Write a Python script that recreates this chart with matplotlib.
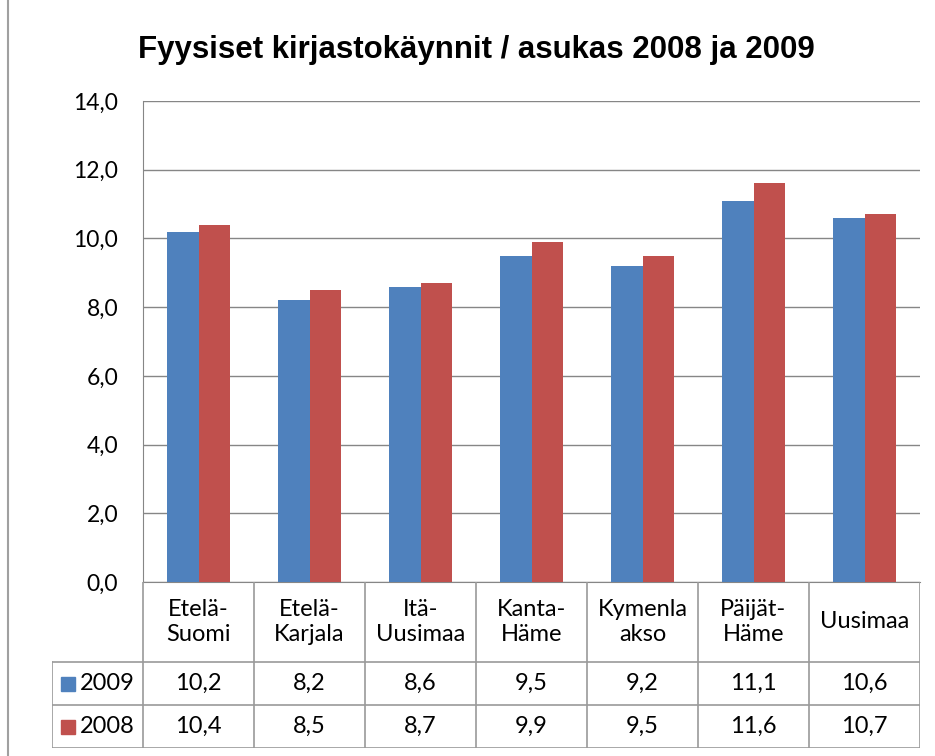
import matplotlib
matplotlib.use("Agg")
import matplotlib.pyplot as plt
import numpy as np
from matplotlib.lines import Line2D
from matplotlib.patches import Rectangle

regions = ["Etelä-\nSuomi", "Etelä-\nKarjala", "Itä-\nUusimaa", "Kanta-\nHäme",
           "Kymenla\nakso", "Päijät-\nHäme", "Uusimaa"]
v2009 = [10.2, 8.2, 8.6, 9.5, 9.2, 11.1, 10.6]
v2008 = [10.4, 8.5, 8.7, 9.9, 9.5, 11.6, 10.7]
series = [("2009", v2009, "#4F81BD"), ("2008", v2008, "#C0504D")]
yticks = np.arange(0, 14.1, 2)

plt.rcParams["font.family"] = ["Lato", "DejaVu Sans"]
W, H = 935, 756
fig = plt.figure(figsize=(W / 100, H / 100), dpi=100)


def px(x0, y0, x1, y1):
    return [x0 / W, 1 - y1 / H, (x1 - x0) / W, (y1 - y0) / H]


grid_c = "#868686"
ax = fig.add_axes(px(143, 101, 920, 582))
x = np.arange(len(regions))
bw = 0.285
ax.bar(x - bw / 2, v2009, bw, color=series[0][2], zorder=3)
ax.bar(x + bw / 2, v2008, bw, color=series[1][2], zorder=3)
ax.set_xlim(-0.5, len(regions) - 0.5)
ax.set_ylim(0, 14)
ax.set_yticks(yticks)
ax.set_yticklabels([f"{t:.1f}".replace(".", ",") for t in yticks], fontsize=16.5)
ax.set_xticks([])
ax.yaxis.grid(True, color=grid_c, linewidth=1, zorder=0)
ax.tick_params(axis="y", length=0, pad=18)
for s in ax.spines.values():
    s.set_color(grid_c)
ax.spines["right"].set_visible(False)
ax.spines["top"].set_visible(False)

# data table below the plot
tab = fig.add_axes(px(52, 582, 920, 748))
lab_w = 91 / 111
left = -0.5 - lab_w
right = len(regions) - 0.5
tab.set_xlim(left, right)
tab.set_ylim(166, 0)
tab.axis("off")
tc = "#9a9a9a"
lw = 1.2
row_edges = [0, 80, 123, 166]

for i in range(len(regions) + 1):
    tab.plot([i - 0.5, i - 0.5], [0, 166], color=tc, lw=lw)
tab.plot([left, left], [row_edges[1], 166], color=tc, lw=lw)
for yv in row_edges[1:]:
    tab.plot([left, right], [yv, yv], color=tc, lw=lw)

for i, r in enumerate(regions):
    tab.text(i, row_edges[1] / 2, r, ha="center", va="center", fontsize=17,
             linespacing=1.25)

for j, (name, vals, col) in enumerate(series):
    yc = (row_edges[j + 1] + row_edges[j + 2]) / 2
    tab.add_patch(Rectangle((left + 0.08, yc - 7), 0.13, 14, color=col,
                            clip_on=False))
    tab.text(left + 0.25, yc, name, ha="left", va="center", fontsize=17)
    for i, v in enumerate(vals):
        tab.text(i, yc, f"{v:.1f}".replace(".", ","), ha="center",
                 va="center", fontsize=17)

fig.text(476 / W, 1 - 50 / H, "Fyysiset kirjastokäynnit / asukas 2008 ja 2009",
         ha="center", va="center", fontsize=22.5, fontweight="bold",
         family="Liberation Sans")
fig.add_artist(Line2D([8 / W, 8 / W], [0, 1], color="#a0a0a0", lw=1.5))

fig.savefig("out.png", dpi=100)
